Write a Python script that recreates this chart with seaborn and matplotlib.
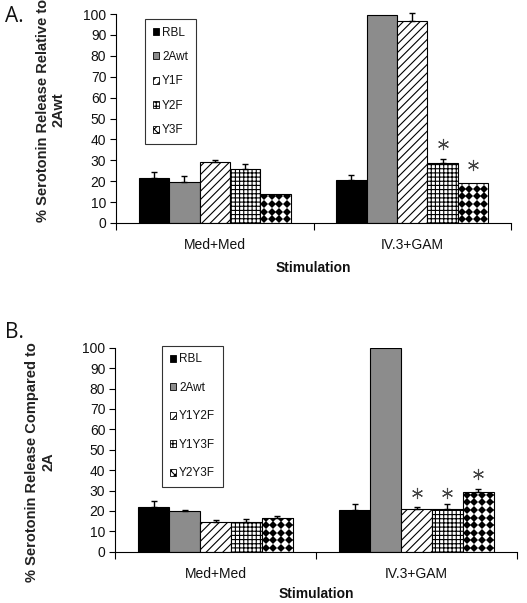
import matplotlib
matplotlib.use("Agg")
import matplotlib.pyplot as plt
import seaborn as sns
import pandas as pd
import numpy as np
from matplotlib.patches import Patch

# ---------------- data ----------------
categories = ["Med+Med", "IV.3+GAM"]

series_a = ["RBL", "2Awt", "Y1F", "Y2F", "Y3F"]
rbl_a = [21.4, 20.4]
awt_a = [19.8, 99.6]
y1f_a = [29.1, 96.5]
y2f_a = [25.7, 28.8]
y3f_a = [13.7, 19.3]
rbl_a_err = [2.9, 2.4]
awt_a_err = [2.6, 0.0]
y1f_a_err = [1.1, 4.0]
y2f_a_err = [2.6, 1.9]
y3f_a_err = [0.0, 0.0]
sig_a = [None, None, None, 38.0, 27.8]   # asterisk height on IV.3+GAM bars

series_b = ["RBL", "2Awt", "Y1Y2F", "Y1Y3F", "Y2Y3F"]
rbl_b = [21.7, 20.6]
awt_b = [20.1, 99.7]
y1y2f_b = [14.5, 21.1]
y1y3f_b = [14.5, 20.8]
y2y3f_b = [16.7, 29.1]
rbl_b_err = [3.0, 2.6]
awt_b_err = [0.4, 0.0]
y1y2f_b_err = [1.0, 0.9]
y1y3f_b_err = [1.5, 2.4]
y2y3f_b_err = [0.9, 1.8]
sig_b = [None, None, 28.9, 28.9, 38.1]

ylabel_a = "% Serotonin Release Relative to\n2Awt"
ylabel_b = "% Serotonin Release Compared to\n2A"
xlabel = "Stimulation"

# ---------------- style ----------------
sns.set_theme(style="white")
plt.rcParams["font.family"] = ["Liberation Sans", "DejaVu Sans"]
plt.rcParams["hatch.linewidth"] = 0.8
TXT = "#111111"

faces = ["black", "#8c8c8c", "white", "white", "white"]
hatches = [None, None, "////", "++++", None]
diamond_fill = [False, False, False, False, True]
legend_hatches = [None, None, "////", "++++", "xxxx"]

fig = plt.figure(figsize=(5.27, 6.03), dpi=100)
ax_a = fig.add_axes([116 / 527, 1 - 223 / 603, 395 / 527, 209 / 603])
ax_b = fig.add_axes([115 / 527, 1 - 551.7 / 603, 402 / 527, 204 / 603])


def diamond_pattern(ax, p, step=7.6):
    """Fill a bar with a grid of black diamonds (clipped to the bar)."""
    tr = ax.transData
    (x0, y0) = tr.transform((p.get_x(), 0))
    (x1, y1) = tr.transform((p.get_x() + p.get_width(), p.get_height()))
    xs = np.arange(x0 + step / 2, x1 + step, step)
    ys = np.arange(y0 + step / 2, y1 + step, step)
    gx, gy = np.meshgrid(xs, ys)
    pts = tr.inverted().transform(np.column_stack([gx.ravel(), gy.ravel()]))
    ln, = ax.plot(pts[:, 0], pts[:, 1], linestyle="none", marker="D",
                  ms=3.6, mew=0, color="black", zorder=p.get_zorder() + 0.1)
    ln.set_clip_path(p)


def draw_panel(ax, series, vals, errs, sigs, ylabel, leg_anchor, leg_spacing,
               ylab_xy, xlab_pad):
    rows = []
    for s, v in zip(series, vals):
        for c, val in zip(categories, v):
            rows.append({"Stimulation": c, "series": s, "value": val})
    df = pd.DataFrame(rows)
    sns.barplot(data=df, x="Stimulation", y="value", hue="series",
                order=categories, hue_order=series, width=0.77,
                palette=["white"] * len(series), errorbar=None,
                edgecolor="black", linewidth=0.8, legend=False, ax=ax)
    ax.set_xlim(-0.5, 1.5)
    ax.set_ylim(0, 100)
    bar_conts = list(ax.containers)
    for i, cont in enumerate(bar_conts):
        for j, p in enumerate(cont.patches):
            p.set_facecolor(faces[i])
            p.set_edgecolor("black")
            if hatches[i]:
                p.set_hatch(hatches[i])
            if diamond_fill[i]:
                diamond_pattern(ax, p)
            e = errs[i][j]
            xc = p.get_x() + p.get_width() / 2
            top = p.get_height()
            if e > 0:
                ax.errorbar([xc], [top], yerr=[[0], [e]], fmt="none",
                            ecolor="black", elinewidth=1.0, capsize=2.5,
                            capthick=1.0, clip_on=False, zorder=1)
            if j == 1 and sigs[i] is not None:
                ax.plot([xc], [sigs[i]], marker=(6, 2, 0), ms=8, mew=0.8,
                        color="#444444", linestyle="none", clip_on=False)

    ax.set_yticks(range(0, 101, 10))
    ax.set_xticks([0, 1])
    ax.set_xticks([-0.5, 0.5, 1.5], minor=True)
    ax.set_xticklabels(categories, fontsize=10, color=TXT)
    ax.tick_params(axis="x", which="major", length=0, pad=11)
    ax.tick_params(axis="x", which="minor", length=5, width=0.8,
                   direction="out", color="black", bottom=True)
    ax.tick_params(axis="y", length=4, width=0.8, direction="out",
                   color="black", left=True, pad=3, labelsize=10,
                   labelcolor=TXT)
    sns.despine(ax=ax)
    for sp in ("left", "bottom"):
        ax.spines[sp].set_color("black")
        ax.spines[sp].set_linewidth(0.8)
    ax.set_xlabel(xlabel, fontsize=10, fontweight="bold", color=TXT,
                  labelpad=xlab_pad)
    ax.set_ylabel(ylabel, fontsize=10.5, fontweight="bold", color="#222222",
                  linespacing=1.15)
    ax.yaxis.set_label_coords(*ylab_xy)

    handles = []
    for i, s in enumerate(series):
        h = Patch(facecolor=faces[i], edgecolor="black", hatch=legend_hatches[i],
                  linewidth=0.6, label=s)
        handles.append(h)
    leg = ax.legend(handles=handles, loc="upper left", bbox_to_anchor=leg_anchor,
                    borderaxespad=0, frameon=True, fancybox=False,
                    edgecolor="black", fontsize=8.5, handlelength=0.55,
                    handleheight=0.55, handletextpad=0.25,
                    labelspacing=leg_spacing, borderpad=0.65)
    leg.get_frame().set_linewidth(0.8)
    for t in leg.get_texts():
        t.set_color(TXT)


draw_panel(ax_a, series_a,
           [rbl_a, awt_a, y1f_a, y2f_a, y3f_a],
           [rbl_a_err, awt_a_err, y1f_a_err, y2f_a_err, y3f_a_err],
           sig_a, ylabel_a, (0.073, 0.976), 1.05, (-0.127, 0.54), 6)
draw_panel(ax_b, series_b,
           [rbl_b, awt_b, y1y2f_b, y1y3f_b, y2y3f_b],
           [rbl_b_err, awt_b_err, y1y2f_b_err, y1y3f_b_err, y2y3f_b_err],
           sig_b, ylabel_b, (0.117, 1.01), 1.4, (-0.149, 0.44), 4)

fig.text(5 / 527, 1 - 17 / 603, "A.", fontsize=15, family=["Open Sans", "DejaVu Sans"],
         color=TXT, va="center", ha="left")
fig.text(5 / 527, 1 - 333 / 603, "B.", fontsize=15, family=["Open Sans", "DejaVu Sans"],
         color=TXT, va="center", ha="left")

fig.savefig("out.png", dpi=100, facecolor="white")
